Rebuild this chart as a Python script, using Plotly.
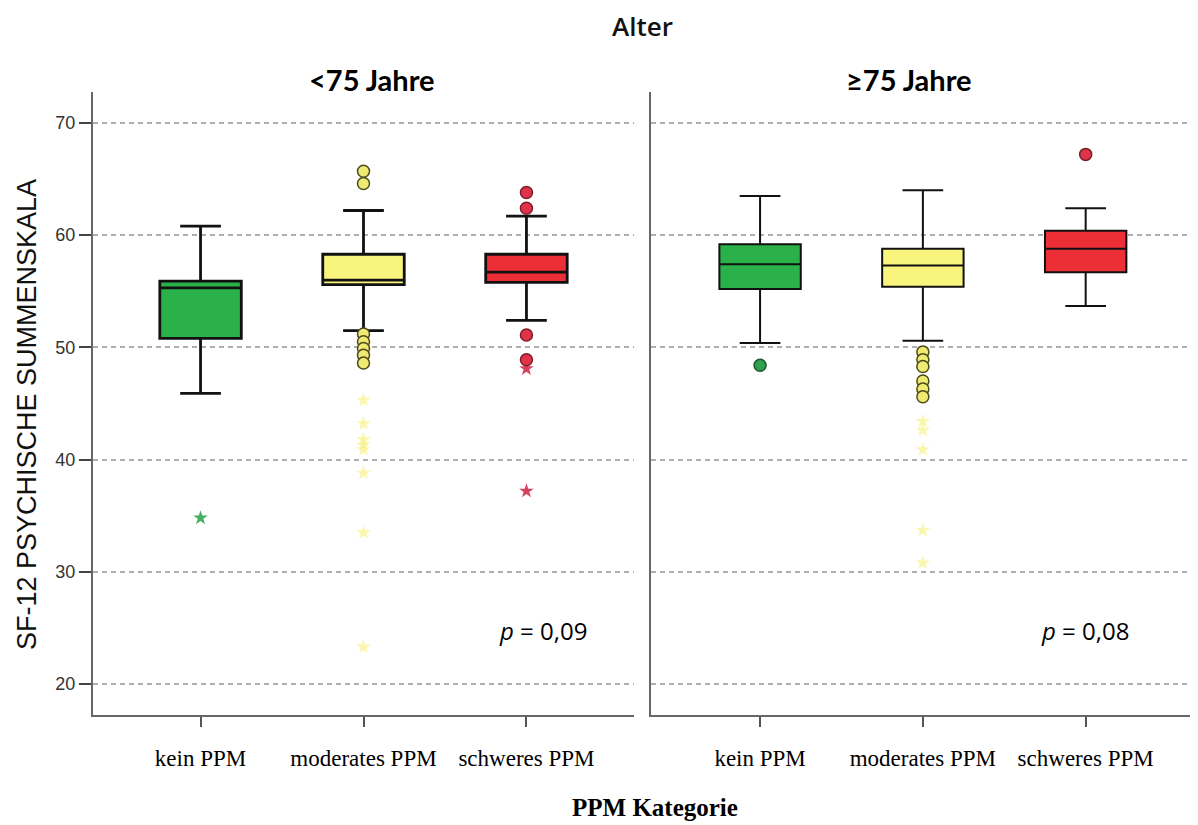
import plotly.graph_objects as go

# ---------------- data ----------------
categories = ["kein PPM", "moderates PPM", "schweres PPM"]
panels = ["<75 Jahre", "≥75 Jahre"]

# <75 Jahre
q1_u75 = [50.8, 55.6, 55.8]
median_u75 = [55.3, 56.0, 56.7]
q3_u75 = [55.9, 58.3, 58.3]
low_u75 = [45.9, 51.5, 52.4]
up_u75 = [60.8, 62.2, 61.7]
circles_u75 = [[], [65.7, 64.6, 51.2, 50.5, 49.9, 49.3, 48.6], [63.8, 62.4, 51.1, 48.9]]
stars_u75 = [[34.8], [45.3, 43.2, 41.8, 41.3, 40.9, 38.8, 33.5, 23.3], [48.1, 37.2]]

# >=75 Jahre
q1_o75 = [55.2, 55.4, 56.7]
median_o75 = [57.4, 57.3, 58.8]
q3_o75 = [59.2, 58.8, 60.4]
low_o75 = [50.4, 50.6, 53.7]
up_o75 = [63.5, 64.0, 62.4]
circles_o75 = [[48.4], [49.6, 48.9, 48.3, 47.0, 46.3, 45.6], [67.2]]
stars_o75 = [[], [43.4, 42.6, 40.9, 33.7, 30.8], []]

p_values = ["0,09", "0,08"]
y_ticks = [20, 30, 40, 50, 60, 70]

# ---------------- styles ----------------
box_fill = ["#2bb14a", "#f8f47e", "#ec2f37"]
circle_fill = ["#2fa050", "#eeea72", "#e0334a"]
circle_line = ["#1d5a2d", "#4d4a1c", "#7a1f2a"]
star_color = ["#45b062", "rgba(246,240,120,0.6)", "#d8405c"]

fig = go.Figure()

panel_data = [
    (q1_u75, median_u75, q3_u75, low_u75, up_u75, circles_u75, stars_u75, "x", "y", 2.8),
    (q1_o75, median_o75, q3_o75, low_o75, up_o75, circles_o75, stars_o75, "x2", "y2", 2.0),
]

for (q1, med, q3, lo, up, circ, stars, xa, ya, lw) in panel_data:
    for i, cat in enumerate(categories):
        fig.add_trace(go.Box(
            x=[i], q1=[q1[i]], median=[med[i]], q3=[q3[i]],
            lowerfence=[lo[i]], upperfence=[up[i]],
            fillcolor=box_fill[i], line=dict(color="#111111", width=lw),
            width=0.5, whiskerwidth=0.5, boxpoints=False,
            xaxis=xa, yaxis=ya, showlegend=False, hoverinfo="skip",
        ))
        if stars[i]:
            fig.add_trace(go.Scatter(
                x=[i] * len(stars[i]), y=stars[i], mode="markers",
                marker=dict(symbol="star", size=11, color=star_color[i],
                            line=dict(width=0)),
                xaxis=xa, yaxis=ya, showlegend=False, hoverinfo="skip",
            ))
        if circ[i]:
            fig.add_trace(go.Scatter(
                x=[i] * len(circ[i]), y=circ[i], mode="markers",
                marker=dict(symbol="circle", size=12, color=circle_fill[i],
                            line=dict(width=1.5, color=circle_line[i])),
                xaxis=xa, yaxis=ya, showlegend=False, hoverinfo="skip",
            ))

# page body has an 8px margin: figure is sized/offset to compensate
OFF = 8
W, H = 1198 - OFF, 825 - OFF
L, R, T = 93 - OFF, 0, 92 - OFF
ph = 715 - 92
B = H - T - ph
pw = W - L - R


def px(x):
    return (x - OFF - L) / pw


def py(y):
    return (715 - y) / ph


xcommon = dict(
    tickmode="array", tickvals=list(range(len(categories))), ticktext=categories,
    showline=True, linecolor="#666666", linewidth=2,
    ticks="outside", ticklen=10, tickcolor="#555555", tickwidth=1.5,
    tickfont=dict(family="Liberation Serif", size=23, color="#000000"),
    ticklabelstandoff=11, showgrid=False, zeroline=False, fixedrange=True,
)
ycommon = dict(
    range=[17.24, 72.76], tickvals=y_ticks,
    showline=True, linecolor="#666666", linewidth=2,
    showgrid=True, gridcolor="#b0b0b0", gridwidth=1.5, griddash="5px,4px",
    zeroline=False, fixedrange=True,
)

fig.update_layout(
    width=W, height=H,
    margin=dict(l=L, r=R, t=T, b=B),
    paper_bgcolor="white", plot_bgcolor="white",
    boxmode="overlay",
    xaxis=dict(domain=[0, px(634)], range=[-0.66, 2.66], **xcommon),
    xaxis2=dict(domain=[px(651), 1], range=[-0.67, 2.69], anchor="y2", **xcommon),
    yaxis=dict(anchor="x", ticks="outside", ticklen=12, tickcolor="#444444", tickwidth=1.5,
               tickfont=dict(family="Liberation Sans", size=18, color="#333333"), **ycommon),
    yaxis2=dict(anchor="x2", matches="y", showticklabels=False, ticks="", **ycommon),
)

ann = [
    dict(text="Alter", x=px(642), y=py(26),
         font=dict(family="Open Sans", size=26, color="#111111", weight=600)),
    dict(text="<b>" + panels[0].replace("<", "&lt;") + "</b>", x=px(372), y=py(80),
         font=dict(family="Lato", size=29, color="#000000")),
    dict(text="<b>" + panels[1] + "</b>", x=px(909), y=py(80),
         font=dict(family="Lato", size=29, color="#000000")),
    dict(text="<i>p</i> = " + p_values[0], x=px(543), y=py(630),
         font=dict(family="Open Sans", size=24, color="#000000")),
    dict(text="<i>p</i> = " + p_values[1], x=px(1085), y=py(630),
         font=dict(family="Open Sans", size=24, color="#000000")),
    dict(text="<b>PPM Kategorie</b>", x=px(655), y=py(808),
         font=dict(family="Liberation Serif", size=25, color="#000000")),
    dict(text="SF-12 PSYCHISCHE SUMMENSKALA", x=px(27), y=py(415), textangle=-90,
         font=dict(family="Liberation Sans", size=27, color="#111111")),
]
for a in ann:
    a.update(xref="paper", yref="paper", showarrow=False, xanchor="center", yanchor="middle")
    fig.add_annotation(**a)

fig.write_html("out.html")
